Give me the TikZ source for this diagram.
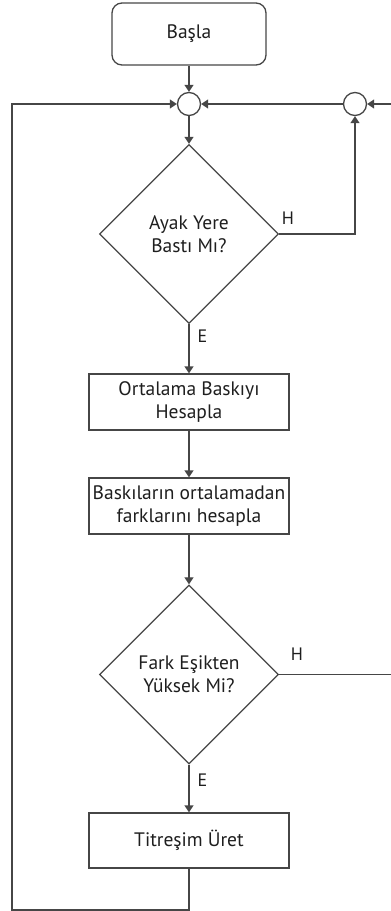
\documentclass[tikz,border=0pt]{standalone}
\usepackage{fontspec}
\setmainfont{PT Sans}
\usepackage{tikz}
\usetikzlibrary{arrows.meta,positioning,shapes.geometric}
\definecolor{lcolor}{RGB}{70,70,70}
\definecolor{tcolor}{RGB}{30,30,30}

\begin{document}
\begin{tikzpicture}[x=1pt,y=-1pt,
    line width=1.3pt,draw=lcolor,
    every node/.style={font=\fontsize{19.5}{23}\selectfont,text=tcolor,align=center},
    arr/.style={draw=lcolor,-{Triangle[width=9pt,length=7pt]}},
    islem/.style={draw=lcolor,line width=1.3pt,minimum width=200pt,minimum height=56pt,inner sep=2pt},
    karar/.style={draw=lcolor,line width=1.3pt,diamond,aspect=1,minimum width=179pt,minimum height=179pt,inner sep=0pt},
    birles/.style={draw=lcolor,line width=1.3pt,circle,minimum size=23pt,inner sep=0pt},
    etiket/.style={font=\fontsize{18}{20}\selectfont,inner sep=0pt}]
  \useasboundingbox (0,0) rectangle (391,911);
  \node[islem,rounded corners=10pt,minimum width=154pt,minimum height=62pt] (basla) at (189,34) {Başla};
  \node[birles] (topj) at (189,104) {};
  \node[birles] (sagj) at (355,104) {};
  \node[karar] (ayak) at (189,234) {Ayak Yere\\Bastı Mı?};
  \node[islem] (ort) at (189,402) {Ortalama Baskıyı\\Hesapla};
  \node[islem] (fark) at (189,506) {Baskıların ortalamadan\\farklarını hesapla};
  \node[karar] (esik) at (189,674.5) {Fark Eşikten\\Yüksek Mi?};
  \node[islem,minimum height=55pt] (titr) at (189,840.5) {Titreşim Üret};
  \coordinate (solalt) at (12,910);
  \coordinate (sagust) at (394,104);

  % etiketler
  \node[etiket,anchor=south west] at ([xshift=2pt,yshift=9pt]ayak.east) {H};
  \node[etiket,anchor=south west] at ([xshift=11pt,yshift=13pt]esik.east) {H};
  \node[etiket,anchor=north west] at ([xshift=8pt,yshift=-5pt]ayak.south) {E};
  \node[etiket,anchor=north west] at ([xshift=8pt,yshift=-9pt]esik.south) {E};

  % baglantilar
  \draw[arr] (basla) -- (topj);
  \draw[arr] (topj) -- (ayak);
  \draw[arr] (ayak) -- (ort);
  \draw[arr] (ort) -- (fark);
  \draw[arr] (fark) -- (esik);
  \draw[arr] (esik) -- (titr);
  \draw[arr] (ayak.east) -| (sagj);
  \draw[arr] (esik.east) -| (sagust) -- (sagj);
  \draw[arr] (sagj) -- (topj);
  \draw[arr] (titr.south) |- (solalt) |- (topj);
\end{tikzpicture}
\end{document}
